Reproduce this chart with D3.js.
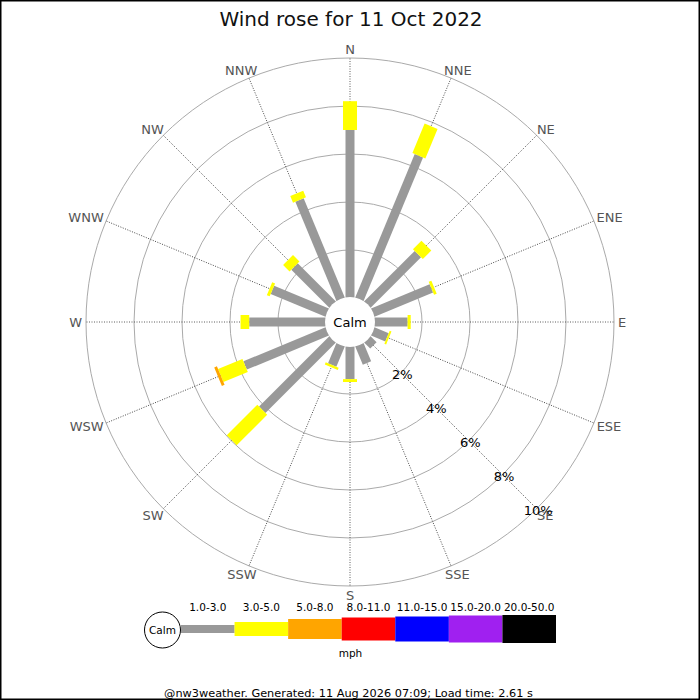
<!DOCTYPE html>
<html>
<head>
<meta charset="utf-8">
<script src="https://cdn.jsdelivr.net/npm/d3@7"></script>
<style>
  html, body { margin: 0; padding: 0; background: #fff; }
  svg { display: block; font-family: "DejaVu Sans", sans-serif; }
</style>
</head>
<body>
<svg id="chart" width="700" height="700"></svg>
<script>
// ---- data ----
const directions = ["N","NNE","NE","ENE","E","ESE","SE","SSE","S","SSW","SW","WSW","W","WNW","NW","NNW"];
const speedClasses = ["1.0-3.0","3.0-5.0","5.0-8.0","8.0-11.0","11.0-15.0","15.0-20.0","20.0-50.0"];
const speed1to3  = [7.0, 6.5, 3.0, 2.67, 1.4, 0.67, 0.38, 0.85, 1.38, 0.94, 4.17, 3.73, 3.2, 2.5, 2.27, 4.5];
const speed3to5  = [1.2, 1.33, 0.5, 0.12, 0.13, 0.08, 0, 0, 0.12, 0.1, 1.8, 1.1, 0.36, 0.13, 0.38, 0.3];
const speed5to8  = [0, 0, 0, 0, 0, 0, 0, 0, 0, 0, 0, 0.12, 0, 0, 0, 0];
const speed8to11 = [0,0,0,0,0,0,0,0,0,0,0,0,0,0,0,0];
const speed11to15 = [0,0,0,0,0,0,0,0,0,0,0,0,0,0,0,0];
const speed15to20 = [0,0,0,0,0,0,0,0,0,0,0,0,0,0,0,0];
const speed20to50 = [0,0,0,0,0,0,0,0,0,0,0,0,0,0,0,0];
const percentTicks = [2, 4, 6, 8, 10];
const titleText = "Wind rose for 11 Oct 2022";
const unitText = "mph";
const calmText = "Calm";
const footerText = "@nw3weather. Generated: 11 Aug 2026 07:09; Load time: 2.61 s";

// ---- styles ----
const classColors = ["#999999","#ffff00","#ffa500","#ff0000","#0000ff","#a020f0","#000000"];
const classWidths = [9, 14, 20, 23, 25, 27, 28];
const legendHeights = [8, 14, 20, 23, 25, 27, 28];

const series = [speed1to3, speed3to5, speed5to8, speed8to11, speed11to15, speed15to20, speed20to50];

const svg = d3.select("#chart");
const cx = 350, cy = 322;
const calmR = 24;
const r = d3.scaleLinear().domain([0, 10]).range([calmR, 264]);
const angle = d3.scaleBand().domain(directions).range([0, 360]).align(0).paddingInner(0).paddingOuter(0);
const ang = d => angle(d); // degrees, clockwise from north

// frame
svg.append("rect").attr("x", 0.75).attr("y", 0.75).attr("width", 698.5).attr("height", 698.5)
  .attr("fill", "#fff").attr("stroke", "#000").attr("stroke-width", 1.5);

// title
svg.append("text").attr("x", 351).attr("y", 26).attr("text-anchor", "middle")
  .attr("font-size", 20).attr("fill", "#111").text(titleText);

const g = svg.append("g").attr("transform", `translate(${cx},${cy})`);

// rings
g.selectAll("circle.ring").data(percentTicks).join("circle").attr("class", "ring")
  .attr("r", d => r(d)).attr("fill", "none").attr("stroke", "#aaaaaa").attr("stroke-width", 1);

// spokes
g.selectAll("line.spoke").data(directions).join("line").attr("class", "spoke")
  .attr("x1", 0).attr("y1", 0).attr("x2", 0).attr("y2", -r(10))
  .attr("transform", d => `rotate(${ang(d)})`)
  .attr("stroke", "#333").attr("stroke-width", 0.8).attr("stroke-dasharray", "1,1.5");

// bars
directions.forEach((dir, i) => {
  let cum = 0;
  const dg = g.append("g").attr("transform", `rotate(${ang(dir)})`);
  series.forEach((s, k) => {
    const v = s[i];
    if (v > 0) {
      const r0 = r(cum), r1 = r(cum + v);
      dg.append("rect").attr("x", -classWidths[k] / 2).attr("y", -r1)
        .attr("width", classWidths[k]).attr("height", r1 - r0)
        .attr("fill", classColors[k]);
    }
    cum += v;
  });
});

// calm circle
g.append("circle").attr("r", calmR + 1).attr("fill", "#fff");
g.append("text").attr("x", 0).attr("y", 4.7).attr("text-anchor", "middle")
  .attr("font-size", 13).attr("fill", "#000").text(calmText);

// direction labels
const labelR = 268, capH = 9.5;
directions.forEach(dir => {
  const t = ang(dir) * Math.PI / 180;
  const s = Math.sin(t), c = Math.cos(t);
  const txt = g.append("text").attr("text-anchor", "middle").attr("font-size", 13)
    .attr("fill", "#555").text(dir);
  const w = txt.node().getComputedTextLength();
  const x = labelR * s + (w / 2) * s;
  const y = -labelR * c - (capH / 2) * c;
  txt.attr("x", x).attr("y", y + capH / 2);
});

// percent labels along SE
const pAng = ang("SE") * Math.PI / 180;
g.selectAll("text.pct").data(percentTicks).join("text").attr("class", "pct")
  .attr("x", d => (r(d) + 2) * Math.sin(pAng))
  .attr("y", d => -(r(d) + 2) * Math.cos(pAng) + 4.7)
  .attr("text-anchor", "middle").attr("font-size", 13).attr("fill", "#000")
  .text(d => d + "%");

// legend
const legY = 629;
const lx = d3.scaleBand().domain(speedClasses).range([181, 556]);
const leg = svg.append("g");
leg.append("circle").attr("cx", 162.5).attr("cy", legY + 1).attr("r", 18)
  .attr("fill", "#fff").attr("stroke", "#000").attr("stroke-width", 1);
leg.append("text").attr("x", 162.5).attr("y", legY + 4.8).attr("text-anchor", "middle")
  .attr("font-size", 10.5).attr("fill", "#000").text(calmText);
speedClasses.forEach((sc, k) => {
  leg.append("rect").attr("x", lx(sc)).attr("y", legY - legendHeights[k] / 2)
    .attr("width", lx.bandwidth()).attr("height", legendHeights[k]).attr("fill", classColors[k]);
  leg.append("text").attr("x", lx(sc) + lx.bandwidth() / 2).attr("y", 611)
    .attr("text-anchor", "middle").attr("font-size", 10.5).attr("fill", "#000").text(sc);
});
leg.append("text").attr("x", 350.5).attr("y", 657).attr("text-anchor", "middle")
  .attr("font-size", 10.5).attr("fill", "#000").text(unitText);

// footer
svg.append("text").attr("x", 348.5).attr("y", 697).attr("text-anchor", "middle")
  .attr("font-size", 11.3).attr("fill", "#000").text(footerText);
</script>
</body>
</html>
